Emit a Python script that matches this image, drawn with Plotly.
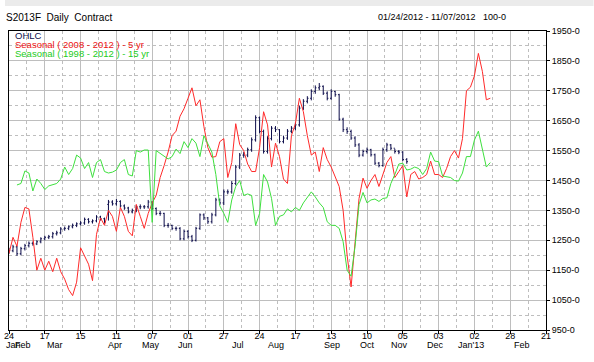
import plotly.graph_objects as go

# ---------------- data ----------------
day_ticks = [0, 18, 36, 54, 72, 90, 108, 126, 144, 162, 180, 198, 216, 234, 252, 270]
day_labels = ["24", "17", "15", "11", "07", "01", "27", "24", "17", "13", "10", "05", "03", "02", "28", "21"]
month_labels = ["Jan", "Feb", "Mar", "Apr", "May", "Jun", "Jul", "Aug", "Sep", "Oct", "Nov", "Dec", "Jan'13", "Feb"]
month_pos = [2.5, 7, 23, 53.5, 71.5, 88.5, 115, 134, 162.5, 180.5, 196.5, 214.5, 232.5, 258]

y_ticks = [950, 1050, 1150, 1250, 1350, 1450, 1550, 1650, 1750, 1850, 1950]
y_labels = ["950-0", "1050-0", "1150-0", "1250-0", "1350-0", "1450-0", "1550-0", "1650-0", "1750-0", "1850-0", "1950-0"]

# OHLC bars (one bar per 2 trading days, trading-day index)
bar_day = list(range(0, 202, 2))
bar_open = [1210,1215,1228,1205,1222,1232,1240,1238,1245,1255,
            1260,1262,1272,1275,1288,1290,1295,1300,1305,1308,
            1320,1312,1315,1328,1322,1370,1378,1372,1380,1365,
            1358,1345,1350,1362,1362,1362,1378,1356,1340,1340,
            1300,1300,1290,1290,1255,1280,1262,1250,1290,1335,
            1325,1312,1335,1385,1375,1412,1412,1440,1495,1535,
            1535,1553,1586,1660,1614,1547,1590,1625,1620,1580,
            1592,1615,1625,1636,1692,1715,1725,1748,1760,1765,
            1742,1725,1748,1737,1655,1620,1614,1592,1569,1535,
            1547,1553,1536,1508,1500,1553,1569,1558,1547,1545,
            1520]
bar_high = [1225,1235,1232,1228,1238,1246,1246,1250,1260,1265,
            1268,1278,1282,1294,1296,1300,1306,1310,1314,1326,
            1324,1320,1334,1332,1326,1385,1384,1388,1384,1370,
            1362,1356,1368,1370,1368,1385,1380,1360,1348,1342,
            1308,1302,1296,1294,1286,1284,1268,1295,1340,1340,
            1328,1342,1392,1390,1420,1420,1448,1502,1542,1545,
            1560,1594,1668,1664,1620,1598,1632,1632,1622,1600,
            1622,1632,1644,1700,1722,1732,1755,1768,1776,1768,
            1748,1755,1750,1740,1660,1628,1620,1598,1575,1553,
            1560,1556,1540,1512,1560,1576,1572,1556,1552,1548,
            1525]
bar_low = [1205,1210,1198,1200,1216,1226,1232,1234,1240,1250,
           1254,1256,1266,1270,1282,1284,1290,1294,1300,1302,
           1306,1306,1310,1316,1306,1316,1366,1366,1360,1352,
           1340,1340,1344,1354,1355,1356,1350,1334,1332,1294,
           1292,1284,1282,1250,1250,1256,1244,1246,1285,1318,
           1305,1306,1330,1368,1368,1404,1406,1434,1488,1526,
           1528,1546,1580,1608,1540,1540,1584,1612,1574,1574,
           1586,1608,1618,1630,1686,1708,1718,1740,1752,1736,
           1718,1720,1730,1650,1612,1606,1586,1562,1528,1530,
           1540,1530,1502,1494,1496,1546,1552,1540,1538,1515,
           1506]
bar_close = [1215,1228,1205,1222,1232,1240,1238,1245,1255,1260,
             1262,1272,1275,1288,1290,1295,1300,1305,1308,1320,
             1312,1315,1328,1322,1312,1378,1372,1380,1365,1358,
             1345,1350,1362,1362,1362,1378,1356,1340,1340,1300,
             1300,1290,1290,1255,1280,1262,1250,1290,1335,1325,
             1312,1335,1385,1375,1412,1412,1440,1495,1535,1535,
             1553,1586,1660,1614,1547,1590,1625,1620,1580,1592,
             1615,1625,1636,1692,1715,1725,1748,1760,1765,1742,
             1725,1748,1737,1655,1620,1614,1592,1569,1535,1547,
             1553,1536,1508,1500,1553,1569,1558,1547,1545,1520,
             1513]

# Seasonal lines (one point per 2 trading days)
season_day = list(range(0, 244, 2))
seasonal_5yr = [1206,1260,1230,1310,1360,1355,1260,1150,1190,1150,
                1180,1145,1190,1145,1120,1085,1065,1110,1225,1200,
                1170,1115,1270,1325,1300,1350,1330,1280,1360,1330,
                1280,1265,1370,1330,1290,1340,1375,1400,1460,1500,
                1545,1600,1615,1665,1690,1725,1760,1700,1720,1630,
                1560,1528,1530,1580,1590,1460,1510,1640,1570,1550,
                1505,1480,1480,1560,1680,1636,1495,1575,1530,1455,
                1440,1600,1640,1725,1680,1600,1535,1545,1480,1560,
                1520,1495,1460,1430,1350,1200,1094,1250,1390,1458,
                1424,1450,1470,1430,1470,1510,1530,1460,1480,1500,
                1395,1470,1480,1455,1460,1470,1515,1470,1470,1460,
                1490,1530,1550,1525,1590,1750,1762,1800,1875,1815,
                1720,1725]
seasonal_15yr = [None,None,1435,1440,1482,1475,1415,1455,1440,1420,
                 1432,1435,1440,1455,1495,1470,1490,1535,1525,1490,
                 1510,1460,1510,1520,1480,1475,1478,1485,1510,1520,
                 1470,1465,1550,1545,1552,1552,1310,1550,1540,1530,
                 1522,1530,1555,1540,1580,1560,1590,1575,1530,1600,
                 1570,1545,1470,1365,1340,1310,1385,1430,1450,1400,
                 1405,1400,1300,1340,1470,1445,1390,1300,1330,1335,
                 1355,1345,1360,1350,1375,1395,1412,1395,1375,1360,
                 1312,1300,1300,1290,1245,1150,1130,1230,1370,1410,
                 1375,1385,1388,1380,1390,1392,1440,1470,1505,1508,
                 1485,1488,1495,1490,1470,1490,1545,1515,1513,1465,
                 1462,1460,1450,1448,1475,1530,1530,1585,1615,1555,
                 1495,1510]

# ---------------- figure ----------------
W, H = 594, 362
ML, MR, MT, MB = 4, 48, 31, 32
PW, PH = W - ML - MR, H - MT - MB

def px_x(px):
    return (px - ML) / PW

def px_y(py):
    return (H - MB - py) / PH

NAVY = "#0c0c4a"
RED = "#ff2a2a"
GREEN = "#3ee03e"
GRID = "#bebebe"
FONT = "Liberation Sans, Arial, sans-serif"

fig = go.Figure()
fig.add_trace(go.Scatter(x=season_day, y=seasonal_5yr, mode="lines",
                         line=dict(color=RED, width=1), showlegend=False, hoverinfo="skip"))
fig.add_trace(go.Scatter(x=season_day, y=seasonal_15yr, mode="lines",
                         line=dict(color=GREEN, width=1), showlegend=False, hoverinfo="skip"))
fig.add_trace(go.Ohlc(x=bar_day, open=bar_open, high=bar_high, low=bar_low, close=bar_close,
                      increasing=dict(line=dict(color=NAVY, width=1)),
                      decreasing=dict(line=dict(color=NAVY, width=1)),
                      tickwidth=0.3, showlegend=False, hoverinfo="skip"))

minor_x = [(a + b) / 2 for a, b in zip(day_ticks[:-1], day_ticks[1:])]
minor_y = [(a + b) / 2 for a, b in zip(y_ticks[:-1], y_ticks[1:])]

fig.update_layout(
    width=W, height=H,
    margin=dict(l=ML, r=MR, t=MT, b=MB),
    paper_bgcolor="white", plot_bgcolor="white",
    font=dict(family=FONT, size=9, color="black"),
    showlegend=False,
    xaxis=dict(
        range=[0, 270], tickmode="array", tickvals=day_ticks, ticktext=day_labels,
        showgrid=True, gridcolor=GRID, gridwidth=1, zeroline=False,
        showline=True, mirror=True, linecolor="black", linewidth=1,
        ticks="outside", ticklen=3, tickcolor="black",
        tickfont=dict(size=9, family=FONT), ticklabelstandoff=-6,
        ticklabeloverflow="allow",
        minor=dict(tickvals=minor_x, showgrid=True, gridcolor=GRID, griddash="dot", ticks=""),
        rangeslider=dict(visible=False),
    ),
    yaxis=dict(
        side="right", range=[950, 1950], tickmode="array", tickvals=y_ticks, ticktext=y_labels,
        showgrid=True, gridcolor=GRID, gridwidth=1, zeroline=False,
        showline=True, mirror=True, linecolor="black", linewidth=1,
        ticks="outside", ticklen=3, tickcolor="black",
        tickfont=dict(size=9, family=FONT), ticklabeloverflow="allow",
        minor=dict(tickvals=minor_y, showgrid=True, gridcolor=GRID, griddash="dot", ticks=""),
    ),
    title=dict(text="S2013F  Daily  Contract", x=6 / W, xanchor="left",
               y=1 - 17 / H, yanchor="middle", font=dict(size=10, family=FONT)),
)

# top grey band
fig.add_shape(type="rect", xref="paper", yref="paper",
              x0=px_x(0), x1=px_x(W), y0=px_y(6), y1=px_y(0),
              fillcolor="#ebebeb", line=dict(width=0), layer="above")

# header texts
fig.add_annotation(text="01/24/2012 - 11/07/2012", xref="paper", yref="paper",
                   x=px_x(476), y=px_y(17), xanchor="right", yanchor="middle",
                   showarrow=False, font=dict(size=9, family=FONT))
fig.add_annotation(text="100-0", xref="paper", yref="paper",
                   x=px_x(508), y=px_y(17), xanchor="right", yanchor="middle",
                   showarrow=False, font=dict(size=9, family=FONT))

# legend texts
legend_items = [("OHLC", NAVY, 35), ("Seasonal ( 2008 - 2012 ) - 5 yr", "#ee1111", 44.5),
                ("Seasonal ( 1998 - 2012 ) - 15 yr", "#22cc22", 54)]
for txt, col, py in legend_items:
    fig.add_annotation(text=txt, xref="paper", yref="paper", x=px_x(9), y=px_y(py),
                       xanchor="left", yanchor="middle", showarrow=False, borderpad=0,
                       font=dict(size=9.5, color=col, family=FONT))

# month labels
for name, pos in zip(month_labels, month_pos):
    fig.add_annotation(text=name, x=pos, xref="x", yref="paper", y=px_y(345),
                       xanchor="center", yanchor="middle", showarrow=False,
                       font=dict(size=9, family=FONT))

fig.write_html("out.html", config={"displayModeBar": False},
               post_script="document.body.style.margin='0';document.body.style.padding='0';")
